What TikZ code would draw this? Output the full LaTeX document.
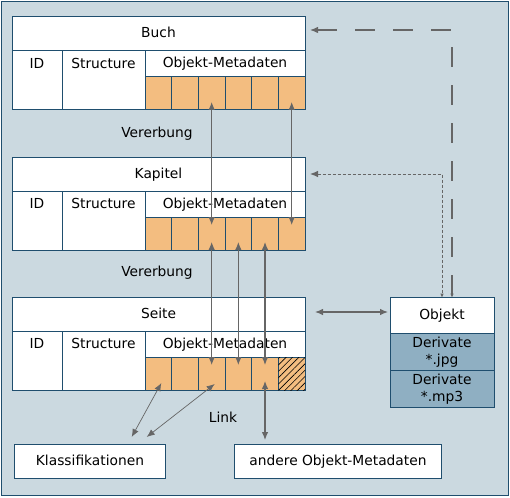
\documentclass[tikz,border=0pt]{standalone}
\usepackage{fontspec}
\setmainfont{DejaVu Sans}
\usepackage{tikz}
\usetikzlibrary{arrows.meta, calc, positioning, patterns.meta}
\definecolor{frameblue}{RGB}{31,78,110}
\definecolor{backblue}{RGB}{203,217,224}
\definecolor{metaorange}{RGB}{243,189,128}
\definecolor{derivblue}{RGB}{143,175,194}
\definecolor{arrowgray}{RGB}{102,102,102}
\tikzset{
	frame/.style = {draw=frameblue, line width=1pt, fill=white, inner sep=0pt, outer sep=0pt, anchor=north west},
	textrow/.style = {text height=10.5pt, text depth=2.5pt},
	titlebox/.style = {frame, textrow, minimum width=293pt, minimum height=34pt},
	fieldbox/.style = {frame, minimum height=59pt, text height=17.5pt, text depth=41.5pt},
	headbox/.style = {frame, textrow, minimum width=160pt, minimum height=26pt},
	cellbox/.style = {frame, fill=metaorange, minimum width=26.67pt, minimum height=33pt},
	derivbox/.style = {frame, fill=derivblue, minimum width=104pt, minimum height=37.3pt, align=center},
	link/.style = {arrowgray, line width=1.1pt, arrows={Latex[length=8pt,width=6.5pt]-Latex[length=8pt,width=6.5pt]}},
	inherit/.style = {link, shorten <=-8pt, shorten >=-8pt},
	thinlink/.style = {link, line width=0.7pt},
	objlink/.style = {arrowgray, arrows={Latex[length=8pt,width=6.5pt]-Latex[length=4pt,width=3.5pt]}, shorten <=5pt}
}
\begin{document}
\begin{tikzpicture}[x=1pt, y=-1pt, font=\fontsize{13.8}{17}\selectfont]
		\useasboundingbox (0,0) rectangle (510,497);
		\draw [frameblue, line width=1.5pt, fill=backblue] (1.5,1.5) rectangle (508.5,495.5);
		
		%----------------------------------------------------------------
		\node(buch) [titlebox] at (12,17) {Buch};
		\node(buchid) [fieldbox, minimum width=50pt] at (buch.south west) {ID};
		\node(buchstruct) [fieldbox, minimum width=83pt] at (buchid.north east) {Structure};
		\node(buchhead) [headbox] at (buchstruct.north east) {Objekt-Metadaten};
		\node(b1) [cellbox] at (buchhead.south west) {};
		\node(b2) [cellbox, right=0pt of b1] {};
		\node(b3) [cellbox, right=0pt of b2] {};
		\node(b4) [cellbox, right=0pt of b3] {};
		\node(b5) [cellbox, right=0pt of b4] {};
		\node(b6) [cellbox, right=0pt of b5] {};
		
		\node(inherit1) at (157,134) {Vererbung};
		
		%----------------------------------------------------------------
		\node(kapitel) [titlebox] at (12,157) {Kapitel};
		\node(kapid) [fieldbox, minimum width=50pt] at (kapitel.south west) {ID};
		\node(kapstruct) [fieldbox, minimum width=83pt] at (kapid.north east) {Structure};
		\node(kaphead) [headbox] at (kapstruct.north east) {Objekt-Metadaten};
		\node(k1) [cellbox] at (kaphead.south west) {};
		\node(k2) [cellbox, right=0pt of k1] {};
		\node(k3) [cellbox, right=0pt of k2] {};
		\node(k4) [cellbox, right=0pt of k3] {};
		\node(k5) [cellbox, right=0pt of k4] {};
		\node(k6) [cellbox, right=0pt of k5] {};
		
		\node(inherit2) at (157,273) {Vererbung};
		
		%----------------------------------------------------------------
		\node(seite) [titlebox] at (12,297) {Seite};
		\node(seiteid) [fieldbox, minimum width=50pt] at (seite.south west) {ID};
		\node(seitestruct) [fieldbox, minimum width=83pt] at (seiteid.north east) {Structure};
		\node(seitehead) [headbox] at (seitestruct.north east) {Objekt-Metadaten};
		\node(s1) [cellbox] at (seitehead.south west) {};
		\node(s2) [cellbox, right=0pt of s1] {};
		\node(s3) [cellbox, right=0pt of s2] {};
		\node(s4) [cellbox, right=0pt of s3] {};
		\node(s5) [cellbox, right=0pt of s4] {};
		\node(s6) [cellbox, right=0pt of s5, postaction={pattern={Lines[angle=45, distance=4.5pt, line width=0.6pt]}}] {};
		
		\node(linklabel) at (223,417) {Link};
		
		%----------------------------------------------------------------
		\node(objekt) [frame, textrow, minimum width=104pt, minimum height=35.6pt] at (390,297.7) {Objekt};
		\node(derivjpg) [derivbox] at (objekt.south west) {Derivate\\*.jpg};
		\node(derivmp3) [derivbox] at (derivjpg.south west) {Derivate\\*.mp3};
		
		\node(klass) [frame, textrow, minimum width=151.4pt, minimum height=34.7pt] at (14.3,444) {Klassifikationen};
		\node(andere) [frame, textrow, minimum width=207.4pt, minimum height=34.7pt] at (234.3,444) {andere Objekt-Metadaten};
		
		%----------------------------------------------------------------
		\draw [inherit] (b3.south) -- (k3.north);
		\draw [inherit] (b6.south) -- (k6.north);
		\draw [inherit] (k3.south) -- (s3.north);
		\draw [inherit] (k4.south) -- (s4.north);
		\draw [inherit] (k5.south) -- (s5.north);
		
		\draw [link, shorten <=-9pt, shorten >=4pt] (s5.south) -- (s5.south |- andere.north);
		\draw [thinlink] ($(s1.south)+(3,-7)$) -- ($(klass.north east)+(-34,-7)$);
		\draw [thinlink] ($(s3.south)+(3,-6)$) -- ($(klass.north east)+(-19,-7)$);
		
		\draw [link, shorten <=10pt, shorten >=2pt] ([yshift=2pt]seite.east) -- ([yshift=2pt]seite.east -| objekt.west);
		\draw [objlink, line width=0.9pt, dash pattern=on 3pt off 2pt] (kapitel.east) -| (objekt.north);
		\draw [objlink, line width=1.2pt, dash pattern=on 20pt off 18pt] ([yshift=4pt]buch.east) -| ([xshift=10pt]objekt.north);
		
	\end{tikzpicture}
\end{document}
